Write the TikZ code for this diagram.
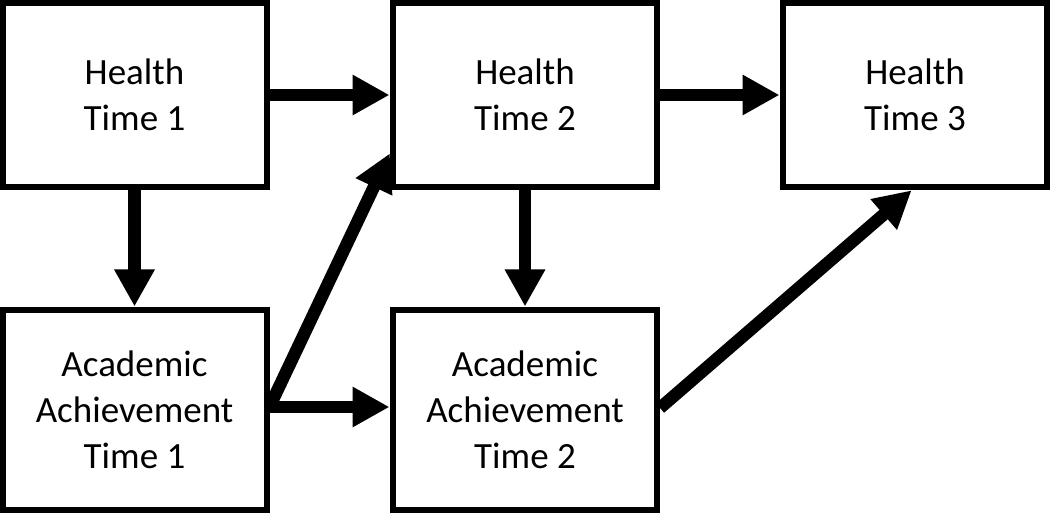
\documentclass[tikz,border=0pt]{standalone}
\usepackage{fontspec}
\setmainfont{Carlito}
\usetikzlibrary{arrows.meta}
\tikzset{
  box/.style={draw=black, line width=6pt, rectangle, minimum width=264pt, align=center,
              font=\fontsize{37}{46}\selectfont, inner sep=0pt},
  topbox/.style={box, minimum height=184pt},
  botbox/.style={box, minimum height=200pt},
  conn/.style={line width=12.5pt, -{Triangle[length=37pt,width=38pt]}, shorten >=0.5pt}
}
\begin{document}
\begin{tikzpicture}[x=1pt,y=-1pt]
\useasboundingbox[fill=white] (0,0) rectangle (1050,513);
\node[topbox] (HT1) at (134.5,95) {Health\\Time 1};
\node[topbox] (HT2) at (525,95) {Health\\Time 2};
\node[topbox] (HT3) at (915,95) {Health\\Time 3};
\node[botbox] (AT1) at (134.5,410) {Academic\\Achievement\\Time 1};
\node[botbox] (AT2) at (525,410) {Academic\\Achievement\\Time 2};
\coordinate (a1) at ([yshift=3pt]AT1.east);
\coordinate (h2in) at ([yshift=37pt]HT2.south west);
\draw[conn] (HT1.east) -- (HT2.west);
\draw[conn] (HT2.east) -- (HT3.west);
\draw[conn] (HT1.south) -- (AT1.north);
\draw[conn] (HT2.south) -- (AT2.north);
\draw[conn] (a1) -- (AT2.west |- a1);
\draw[conn] (a1) -- (h2in);
\draw[conn] ([yshift=2pt]AT2.east) -- ([xshift=-3pt]HT3.south);
\end{tikzpicture}
\end{document}
